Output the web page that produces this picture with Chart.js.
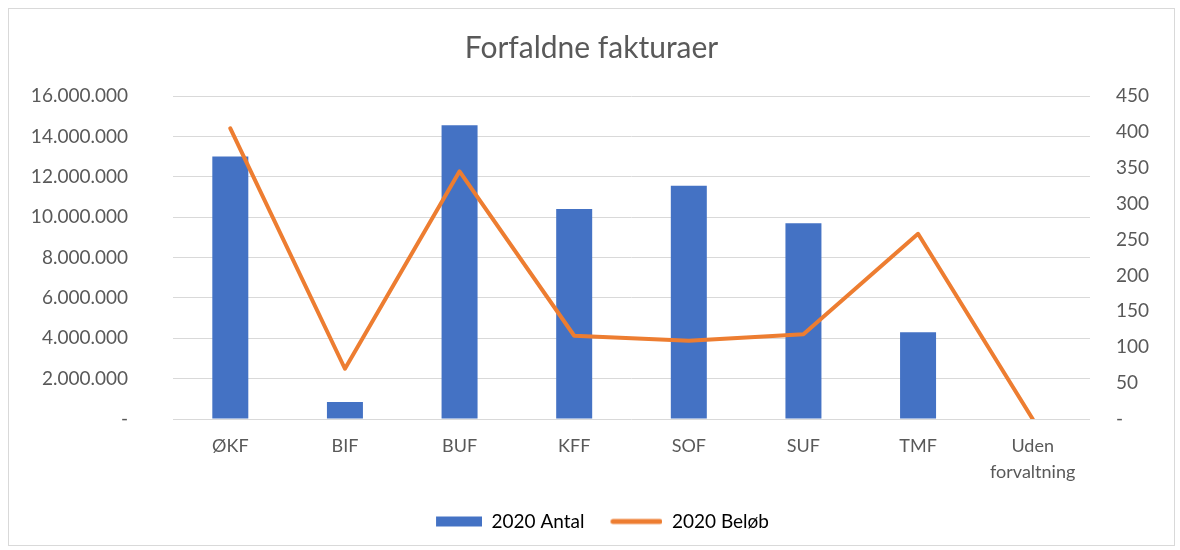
<!DOCTYPE html>
<html>
<head>
<meta charset="utf-8">
<script src="https://cdn.jsdelivr.net/npm/chart.js@4"></script>
<style>
  body { margin: 0; background: #fff; }
  #frame { position: absolute; left: 8px; top: 8px; width: 1167px; height: 538px;
           border: 1px solid #d9d9d9; box-sizing: border-box; }
  #chart { display: block; }
</style>
</head>
<body>
<div id="frame"><canvas id="chart" width="1165" height="536"></canvas></div>
<script>
// Data
const categories = ['ØKF', 'BIF', 'BUF', 'KFF', 'SOF', 'SUF', 'TMF', ['Uden', 'forvaltning']];
const antal2020 = [13000000, 840000, 14550000, 10400000, 11550000, 9700000, 4300000, 0];
const beloeb2020 = [405, 70, 345, 116, 109, 118, 258, 0];
const seriesNames = ['2020 Antal', '2020 Beløb'];

const blue = '#4472C4';
const orange = '#ED7D31';
const textGrey = '#595959';
const gridGrey = '#d9d9d9';

Chart.defaults.font.family = 'Lato, "Open Sans", sans-serif';
Chart.defaults.color = textGrey;

// thousands separator "." and zero shown as "-"
function fmt(v) {
    if (v === 0) return '-';
    return String(Math.round(v)).replace(/\B(?=(\d{3})+(?!\d))/g, '.');
}

// legend icons, drawn at the right end of a wider canvas so the items get Excel-like spacing
const ICON_W = 68;
function makeIcon(w, h, color, round) {
    const c = document.createElement('canvas');
    c.width = ICON_W; c.height = 12;
    const g = c.getContext('2d');
    const x0 = ICON_W - w;
    if (round) {
        g.strokeStyle = color;
        g.lineWidth = h;
        g.lineCap = 'round';
        g.beginPath();
        g.moveTo(x0 + h / 2, 6);
        g.lineTo(ICON_W - h / 2, 6);
        g.stroke();
    } else {
        g.fillStyle = color;
        g.fillRect(x0, 6 - h / 2, w, h);
    }
    return c;
}
const icons = [makeIcon(46, 10, blue, false), makeIcon(52, 5, orange, true)];

const ctx = document.getElementById('chart').getContext('2d');
const chart = new Chart(ctx, {
    type: 'bar',
    data: {
        labels: categories,
        datasets: [{
            type: 'bar',
            label: seriesNames[0],
            data: antal2020,
            backgroundColor: blue,
            yAxisID: 'y',
            barPercentage: 1,
            categoryPercentage: 0.314,
            order: 2
        }, {
            type: 'line',
            label: seriesNames[1],
            data: beloeb2020,
            borderColor: orange,
            backgroundColor: orange,
            borderWidth: 4,
            pointRadius: 0,
            tension: 0,
            borderCapStyle: 'round',
            borderJoinStyle: 'round',
            yAxisID: 'y1',
            order: 1
        }]
    },
    options: {
        responsive: false,
        animation: false,
        layout: { padding: { left: 0, right: 0, top: 0, bottom: 4 } },
        plugins: {
            title: {
                display: true,
                text: 'Forfaldne fakturaer',
                color: textGrey,
                font: { size: 30, weight: 'normal' },
                padding: { top: 21, bottom: 30 }
            },
            legend: {
                position: 'bottom',
                labels: {
                    usePointStyle: true,
                    pointStyleWidth: ICON_W,
                    boxHeight: 12,
                    padding: 10,
                    color: textGrey,
                    font: { size: 19 },
                    generateLabels: (c) => seriesNames.map((name, i) => ({
                        text: name,
                        fillStyle: i === 0 ? blue : orange,
                        strokeStyle: 'transparent',
                        lineWidth: 0,
                        pointStyle: icons[i],
                        hidden: !c.isDatasetVisible(i),
                        datasetIndex: i
                    }))
                }
            },
            tooltip: { enabled: false }
        },
        scales: {
            x: {
                grid: { display: false, drawTicks: false },
                border: { display: false },
                ticks: { padding: 15, font: { size: 18, lineHeight: 1.4 }, maxRotation: 0, autoSkip: false },
                afterFit: (s) => { s.height = 83; }
            },
            y: {
                position: 'left',
                min: 0,
                max: 16000000,
                grid: { color: gridGrey, drawTicks: false },
                border: { display: false },
                ticks: { stepSize: 2000000, padding: 45, font: { size: 19 }, callback: (v) => fmt(v) },
                afterFit: (s) => { s.width = 164; }
            },
            y1: {
                position: 'right',
                min: 0,
                max: 450,
                grid: { display: false, drawTicks: false },
                border: { display: false },
                ticks: { stepSize: 50, padding: 26, font: { size: 19 }, callback: (v) => fmt(v) },
                afterFit: (s) => { s.width = 84; }
            }
        }
    }
});
</script>
</body>
</html>
